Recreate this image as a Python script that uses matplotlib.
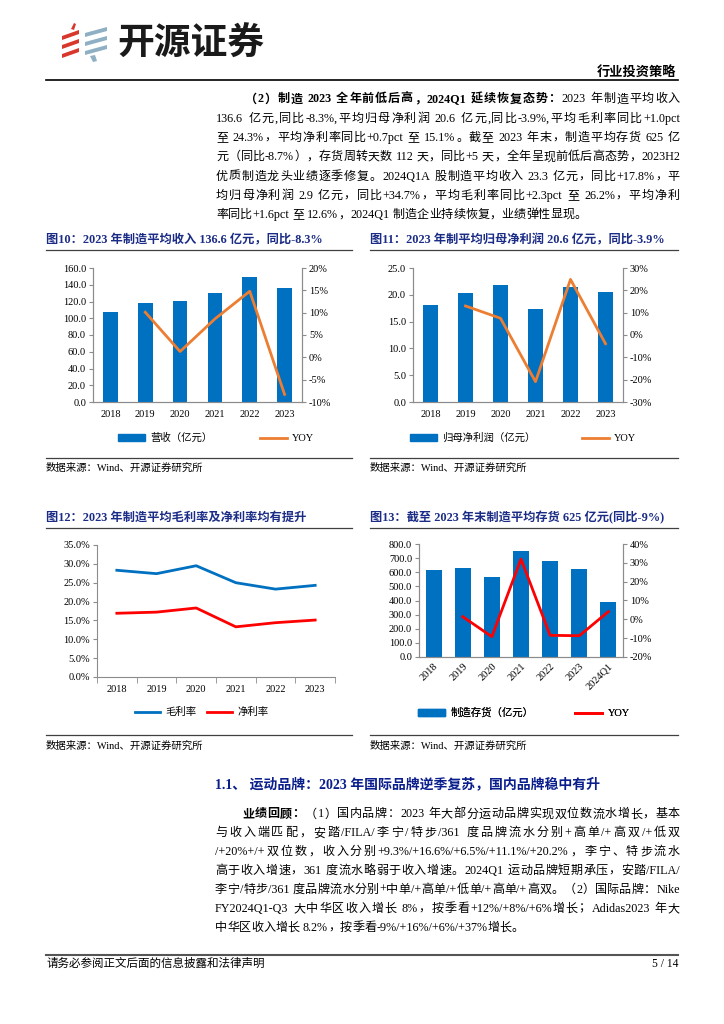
import matplotlib
matplotlib.use("Agg")
import matplotlib.pyplot as plt
from matplotlib.patches import Polygon, Patch
from matplotlib.lines import Line2D
from matplotlib.font_manager import FontProperties
from matplotlib.ticker import FuncFormatter

W, H = 724, 1024
FAM = ["Liberation Serif", "Noto Sans CJK SC"]
plt.rcParams["font.family"] = FAM

NAVY = "#1B2C86"
BLUE = "#0070C0"
ORANGE = "#ED7D31"
RED = "#FF0000"
GREY = "#8C8C8C"

# ----------------------------
# data
# ----------------------------
years = ["2018", "2019", "2020", "2021", "2022", "2023"]
rev = [107.8, 118.6, 120.6, 130.5, 149.6, 136.6]
rev_yoy = [10.1, 1.3, 8.6, 14.8, -8.3]
profit = [18.1, 20.4, 21.8, 17.3, 21.5, 20.6]
profit_yoy = [13.0, 7.5, -20.9, 24.9, -3.9]
gross_margin = [28.3, 27.4, 29.5, 25.0, 23.3, 24.3]
net_margin = [16.9, 17.2, 18.3, 13.3, 14.4, 15.1]
inv_periods = ["2018", "2019", "2020", "2021", "2022", "2023", "2024Q1"]
inventory = [616, 628, 568, 750, 682, 625, 392]
inv_yoy = [1.4, -9.2, 32.0, -8.5, -8.7, 4.1]

top_para = [
    [("（2）制造 2023 全年前低后高，2024Q1 延续恢复态势：", True), ("2023 年制造平均收入", False)],
    [("136.6 亿元,同比-8.3%,平均归母净利润 20.6 亿元,同比-3.9%,平均毛利率同比+1.0pct", False)],
    [("至 24.3%，平均净利率同比+0.7pct 至 15.1%。截至 2023 年末，制造平均存货 625 亿", False)],
    [("元（同比-8.7%），存货周转天数 112 天，同比+5 天，全年呈现前低后高态势，2023H2", False)],
    [("优质制造龙头业绩逐季修复。2024Q1A 股制造平均收入 23.3 亿元，同比+17.8%，平", False)],
    [("均归母净利润 2.9 亿元，同比+34.7%，平均毛利率同比+2.3pct 至 26.2%，平均净利", False)],
    [("率同比+1.6pct 至 12.6%，2024Q1 制造企业持续恢复，业绩弹性显现。", False)],
]
bottom_para = [
    [("业绩回顾：", True), ("（1）国内品牌：2023 年大部分运动品牌实现双位数流水增长，基本", False)],
    [("与收入端匹配，安踏/FILA/李宁/特步/361 度品牌流水分别+高单/+高双/+低双", False)],
    [("/+20%+/+双位数，收入分别+9.3%/+16.6%/+6.5%/+11.1%/+20.2%，李宁、特步流水", False)],
    [("高于收入增速，361 度流水略弱于收入增速。2024Q1 运动品牌短期承压，安踏/FILA/", False)],
    [("李宁/特步/361 度品牌流水分别+中单/+高单/+低单/+高单/+高双。（2）国际品牌：Nike", False)],
    [("FY2024Q1-Q3 大中华区收入增长 8%，按季看+12%/+8%/+6%增长；Adidas2023 年大", False)],
    [("中华区收入增长 8.2%，按季看-9%/+16%/+6%/+37%增长。", False)],
]

fig = plt.figure(figsize=(W / 100, H / 100), dpi=100)
bg = fig.add_axes([0, 0, 1, 1])
bg.set_xlim(0, W)
bg.set_ylim(H, 0)
bg.axis("off")
renderer = fig.canvas.get_renderer()


def rect(l, t, r, b):
    return [l / W, 1 - b / H, (r - l) / W, (b - t) / H]


def tokens(segs):
    out = []
    for s, bold in segs:
        buf = ""
        for ch in s:
            if ord(ch) < 128 and ch != " ":
                buf += ch
                continue
            if buf:
                out.append((buf, bold))
                buf = ""
            out.append((ch, bold))
        if buf:
            out.append((buf, bold))
    return out


def text_w(s, bold, size):
    prop = FontProperties(family=FAM, weight="bold" if bold else "normal", size=size)
    w, _, _ = renderer.get_text_width_height_descent(s, prop, ismath=False)
    return w


def put_line(segs, x0, x1, y, size, justify=True, color="black"):
    toks = tokens(segs)
    widths = [0.25 * size * 100 / 72 if t == " " else text_w(t, b, size) for t, b in toks]
    gap = (x1 - x0 - sum(widths)) / (len(toks) - 1) if justify else 0
    x = x0
    for (t, b), w in zip(toks, widths):
        if t != " ":
            bg.text(x, y + 0.36 * size * 100 / 72, t, fontsize=size, color=color,
                    fontweight="bold" if b else "normal", va="baseline", ha="left")
        x += w + gap


def paragraph(lines, x0, x1, y0, step, indent, size):
    for i, segs in enumerate(lines):
        put_line(segs, x0 + (indent if i == 0 else 0), x1, y0 + i * step, size,
                 justify=i < len(lines) - 1)


# ----------------------------
# header
# ----------------------------
red_strips = [[(62, 36), (79, 30), (79, 34), (62, 40)],
              [(62, 45), (79, 39), (79, 43), (62, 49)],
              [(62, 54), (79, 48), (79, 52), (62, 58)],
              [(71, 29), (74, 23), (76, 24), (74, 30)]]
blue_strips = [[(85, 33), (107, 27), (107, 31), (85, 37)],
               [(85, 42), (107, 36), (107, 40), (85, 46)],
               [(85, 51), (107, 45), (107, 49), (85, 55)],
               [(90, 56), (95, 55), (97, 61), (93, 62)]]
for pts in red_strips:
    bg.add_patch(Polygon(pts, closed=True, color="#D8382C", lw=0))
for pts in blue_strips:
    bg.add_patch(Polygon(pts, closed=True, color="#8FB0C4", lw=0))
bg.text(117, 44, "开源证券", fontsize=26.5, fontweight="bold", family="Noto Sans CJK SC",
        va="center", ha="left", color="#1A1A1A")
bg.text(676, 72, "行业投资策略", fontsize=9.5, fontweight="bold", ha="right", va="center")
bg.plot([46, 678], [80, 80], color="black", lw=1.2)

paragraph(top_para, 216, 680, 98, 19.3, 29, 8.7)

# ----------------------------
# chart frames
# ----------------------------
titles = [("图10：2023 年制造平均收入 136.6 亿元，同比-8.3%", 46, 240),
          ("图11：2023 年制平均归母净利润 20.6 亿元，同比-3.9%", 370, 240),
          ("图12：2023 年制造平均毛利率及净利率均有提升", 46, 518),
          ("图13：截至 2023 年末制造平均存货 625 亿元(同比-9%)", 370, 518)]
for t, x, y in titles:
    bg.text(x, y, t, fontsize=8.8, fontweight="bold", color=NAVY, va="center", ha="left")
    bg.plot([x, x + 306 if x < 100 else 678], [y + 10, y + 10], color="#404040", lw=0.9)
for x0, x1, ly, sy in [(46, 352, 458, 468), (370, 678, 458, 468),
                       (46, 352, 735, 746), (370, 678, 735, 746)]:
    bg.plot([x0, x1], [ly, ly], color="#404040", lw=0.9)
    bg.text(x0, sy, "数据来源：Wind、开源证券研究所", fontsize=7.5, va="center", ha="left")


def style(ax, right=True):
    for s in ["left", "bottom", "right"]:
        ax.spines[s].set_color(GREY)
    ax.spines["top"].set_visible(False)
    if not right:
        ax.spines["right"].set_visible(False)
    ax.tick_params(axis="y", direction="out", length=3, color=GREY, labelsize=7.5, pad=2)
    ax.tick_params(axis="x", length=0, labelsize=7.5, pad=6)


def pct(dec=0):
    return FuncFormatter(lambda v, p: f"{v:.{dec}f}%")


def legend_at(handles, labels, cx, cy, hl, cs):
    leg = bg.legend(handles, labels, loc="center", bbox_to_anchor=(cx, cy),
                    bbox_transform=bg.transData, ncol=2, frameon=False, fontsize=7.5,
                    handlelength=hl, handleheight=0.6, handletextpad=0.5, columnspacing=cs)
    bg.add_artist(leg)


# 图10
x = range(len(years))
ax = fig.add_axes(rect(93, 268, 302, 402))
ax.bar(x, rev, 0.42, color=BLUE)
ax.set_xlim(-0.5, 5.5)
ax.set_ylim(0, 160)
ax.set_yticks(range(0, 161, 20))
ax.yaxis.set_major_formatter(FuncFormatter(lambda v, p: f"{v:.1f}"))
ax.set_xticks(list(x), years)
ax2 = ax.twinx()
ax2.plot(list(x)[1:], rev_yoy, color=ORANGE, lw=2)
ax2.set_ylim(-10, 20)
ax2.set_yticks(range(-10, 21, 5))
ax2.yaxis.set_major_formatter(pct())
style(ax)
style(ax2)
legend_at([Patch(color=BLUE), Line2D([], [], color=ORANGE, lw=2)],
          ["营收（亿元）", "YOY"], 216, 438, 2.6, 4.5)

# 图11
ax = fig.add_axes(rect(413, 268, 623, 402))
ax.bar(x, profit, 0.42, color=BLUE)
ax.set_xlim(-0.5, 5.5)
ax.set_ylim(0, 25)
ax.set_yticks(range(0, 26, 5))
ax.yaxis.set_major_formatter(FuncFormatter(lambda v, p: f"{v:.1f}"))
ax.set_xticks(list(x), years)
ax2 = ax.twinx()
ax2.plot(list(x)[1:], profit_yoy, color=ORANGE, lw=2)
ax2.set_ylim(-30, 30)
ax2.set_yticks(range(-30, 31, 10))
ax2.yaxis.set_major_formatter(pct())
style(ax)
style(ax2)
legend_at([Patch(color=BLUE), Line2D([], [], color=ORANGE, lw=2)],
          ["归母净利润（亿元）", "YOY"], 523, 438, 2.6, 4.5)

# 图12
ax = fig.add_axes(rect(97, 545, 335, 677))
ax.plot(x, gross_margin, color=BLUE, lw=2)
ax.plot(x, net_margin, color=RED, lw=2)
ax.set_xlim(-0.5, 5.5)
ax.set_ylim(0, 35)
ax.set_yticks(range(0, 36, 5))
ax.yaxis.set_major_formatter(pct(1))
ax.set_xticks(list(x), years)
ax.set_xticks([i - 0.5 for i in range(7)], minor=True)
style(ax, right=False)
ax.tick_params(axis="x", which="minor", direction="out", length=4, color=GREY)
legend_at([Line2D([], [], color=BLUE, lw=2), Line2D([], [], color=RED, lw=2)],
          ["毛利率", "净利率"], 202, 712, 2.4, 1.0)

# 图13
xi = range(len(inv_periods))
ax = fig.add_axes(rect(419, 544, 623, 657))
ax.bar(xi, inventory, 0.55, color=BLUE)
ax.set_xlim(-0.5, 6.5)
ax.set_ylim(0, 800)
ax.set_yticks(range(0, 801, 100))
ax.yaxis.set_major_formatter(FuncFormatter(lambda v, p: f"{v:.1f}"))
ax.set_xticks(list(xi), inv_periods, rotation=45, ha="right", rotation_mode="anchor")
ax2 = ax.twinx()
ax2.plot(list(xi)[1:], inv_yoy, color=RED, lw=2)
ax2.set_ylim(-20, 40)
ax2.set_yticks(range(-20, 41, 10))
ax2.yaxis.set_major_formatter(pct())
style(ax)
style(ax2)
ax.tick_params(axis="x", pad=3)
legend_at([Patch(color=BLUE), Line2D([], [], color=RED, lw=2)],
          ["制造存货（亿元）", "YOY"], 524, 713, 2.6, 4.0)

# ----------------------------
# section 1.1 + footer
# ----------------------------
bg.text(215, 784, "1.1、 运动品牌：2023 年国际品牌逆季复苏，国内品牌稳中有升",
        fontsize=10, fontweight="bold", color="#0A1E8C", va="center", ha="left")
paragraph(bottom_para, 215, 680, 813, 18.9, 27, 8.7)

bg.plot([46, 678], [955, 955], color="#555555", lw=1.5)
bg.text(46, 964, "请务必参阅正文后面的信息披露和法律声明", fontsize=8.3, va="center", ha="left")
bg.text(678, 964, "5 / 14", fontsize=8.3, va="center", ha="right")

fig.savefig("out.png", dpi=100)
